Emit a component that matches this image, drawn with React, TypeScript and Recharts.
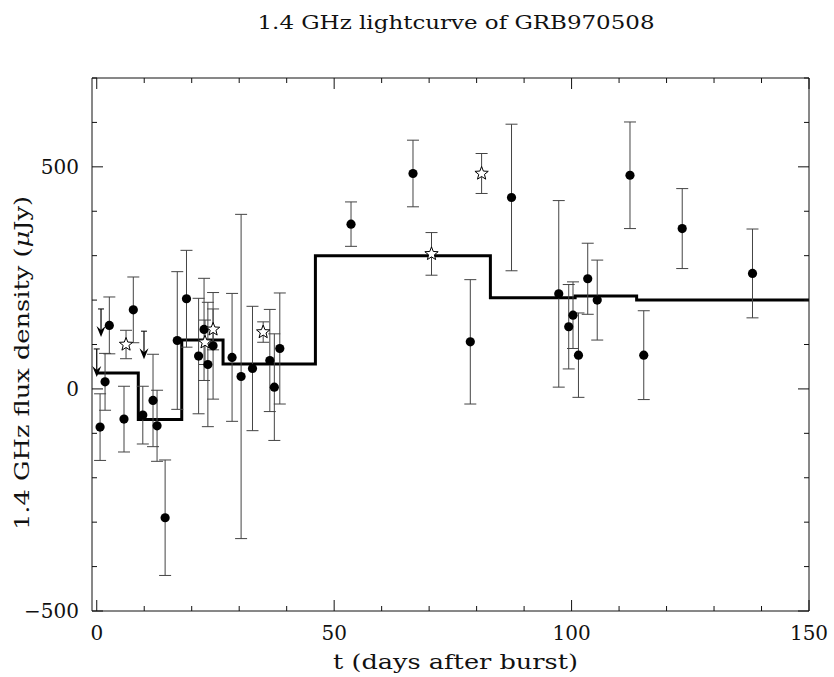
import React from 'react';
import { ComposedChart, Scatter, Line, XAxis, YAxis, ErrorBar, Label } from 'recharts';

// filled circles: t (days), flux (uJy), 1-sigma error
const vlaT = [0.7, 1.75, 2.65, 5.74, 7.7, 9.7, 11.85, 12.7, 14.4, 16.96, 18.9, 21.45, 22.6, 23.4, 24.5, 28.5, 30.4, 32.8, 36.45, 37.4, 38.55, 53.55, 66.6, 78.67, 87.35, 97.3, 99.4, 100.3, 101.45, 103.4, 105.4, 112.3, 115.2, 123.3, 138.1];
const vlaFlux = [-86, 16, 143, -68, 178, -59, -26, -83, -290, 109, 203, 74, 134, 55, 97, 71, 28, 46, 64, 4, 91, 371, 485, 106, 431, 214, 140, 166, 76, 248, 200, 481, 76, 361, 260];
const vlaErr = [75, 64, 64, 74, 74, 65, 104, 80, 130, 155, 109, 130, 115, 140, 120, 144, 365, 140, 115, 120, 125, 50, 75, 140, 165, 210, 95, 75, 95, 80, 90, 120, 100, 90, 100];

// open stars
const starT = [6.17, 22.8, 24.5, 35.05, 70.5, 81.05];
const starFlux = [100, 105, 134, 128, 304, 485];
const starErr = [32, 50, 46, 23, 48, 45];

// upper limits (arrows)
const limT = [0.0, 0.9, 9.95];
const limFlux = [90, 180, 130];

// averaged lightcurve (step)
const stepT = [0, 8.75, 17.9, 26.6, 46.05, 82.9, 100.75, 113.7, 150];
const stepFlux = [36, -69, 110, 56, 300, 205, 209, 200, 200];

const xTicks = [0, 10, 20, 30, 40, 50, 60, 70, 80, 90, 100, 110, 120, 130, 140, 150];
const yTicks = [-500, -400, -300, -200, -100, 0, 100, 200, 300, 400, 500, 600, 700];

const vlaData = vlaT.map((t, i) => ({ t, f: vlaFlux[i], err: vlaErr[i] }));
const starData = starT.map((t, i) => ({ t, f: starFlux[i], err: starErr[i] }));
const limData = limT.map((t, i) => ({ t, f: limFlux[i] }));
const stepData = stepT.map((t, i) => ({ t, f: stepFlux[i] }));

const FONT = '"DejaVu Serif", "Liberation Serif", serif';
const INK = '#111';

const fmt = (v: number) => (v < 0 ? '\u2212' + Math.abs(v) : String(v));

const BottomTick = ({ x, y, payload }: any) => {
    const major = payload.value % 50 === 0;
    return (
        <g>
            <line x1={x} x2={x} y1={y} y2={y - (major ? 11 : 5)} stroke={INK} />
            {major && (
                <text x={x} y={y + 29} textAnchor="middle" fontFamily={FONT} fontSize={20} fill={INK}>
                    {payload.value}
                </text>
            )}
        </g>
    );
};

const TopTick = ({ x, y, payload }: any) => {
    const major = payload.value % 50 === 0;
    return <line x1={x} x2={x} y1={y} y2={y + (major ? 11 : 5)} stroke={INK} />;
};

const LeftTick = ({ x, y, payload }: any) => {
    const major = payload.value % 500 === 0;
    return (
        <g>
            <line x1={x} x2={x + (major ? 11 : 5)} y1={y} y2={y} stroke={INK} />
            {major && (
                <text x={x - 13} y={y + 7} textAnchor="end" fontFamily={FONT} fontSize={20} fill={INK}>
                    {fmt(payload.value)}
                </text>
            )}
        </g>
    );
};

const RightTick = ({ x, y, payload }: any) => {
    const major = payload.value % 500 === 0;
    return <line x1={x} x2={x - (major ? 11 : 5)} y1={y} y2={y} stroke={INK} />;
};

const Dot = (p: any) => <circle cx={p.cx} cy={p.cy} r={4.6} fill="#000" />;

const Star = (p: any) => {
    const pts: string[] = [];
    for (let k = 0; k < 10; k++) {
        const r = k % 2 === 0 ? 7 : 3;
        const a = -Math.PI / 2 + (k * Math.PI) / 5;
        pts.push(`${p.cx + r * Math.cos(a)},${p.cy + r * Math.sin(a)}`);
    }
    return <polygon points={pts.join(' ')} fill="#fff" stroke="#000" strokeWidth={1} />;
};

const Arrow = (p: any) => {
    const { cx, cy } = p;
    const len = 28;
    return (
        <g>
            <line x1={cx - 3} x2={cx + 3} y1={cy} y2={cy} stroke="#000" />
            <line x1={cx} x2={cx} y1={cy} y2={cy + len - 4} stroke="#000" strokeWidth={1.2} />
            <path
                d={`M${cx - 4.5},${cy + len - 11} L${cx},${cy + len} L${cx + 4.5},${cy + len - 11} L${cx},${cy + len - 7} Z`}
                fill="#000"
            />
        </g>
    );
};

const XLabel = ({ viewBox }: any) => (
    <text
        x={viewBox.x + viewBox.width / 2 + 5}
        y={viewBox.y + 58}
        textAnchor="middle"
        fontFamily={FONT}
        fontSize={20}
        fill={INK}
        textLength={245}
        lengthAdjust="spacingAndGlyphs"
    >
        t (days after burst)
    </text>
);

const YLabel = ({ viewBox }: any) => {
    const cx = viewBox.x - 10;
    const cy = 363;
    return (
        <text
            x={cx}
            y={cy}
            transform={`rotate(-90 ${cx} ${cy})`}
            textAnchor="middle"
            dominantBaseline="central"
            fontFamily={FONT}
            fontSize={20}
            fill={INK}
            textLength={334}
            lengthAdjust="spacingAndGlyphs"
        >
            1.4 GHz flux density (<tspan fontStyle="italic">μ</tspan>Jy)
        </text>
    );
};

export default function App() {
    return (
        <div style={{ position: 'absolute', left: 0, top: 0, width: 834, height: 677, background: '#fff' }}>
            <svg width={834} height={50} style={{ position: 'absolute', left: 0, top: 0 }}>
                <text
                    x={456}
                    y={29}
                    textAnchor="middle"
                    fontFamily={FONT}
                    fontSize={19}
                    fill={INK}
                    textLength={397}
                    lengthAdjust="spacingAndGlyphs"
                >
                    1.4 GHz lightcurve of GRB970508
                </text>
            </svg>
            <ComposedChart
                width={834}
                height={677}
                margin={{ top: 68, right: 15, bottom: 36, left: 32 }}
            >
                <XAxis
                    xAxisId={0}
                    dataKey="t"
                    type="number"
                    domain={[-1, 150]}
                    allowDataOverflow
                    ticks={xTicks}
                    interval={0}
                    height={30}
                    tickSize={0}
                    tickMargin={0}
                    tickLine={false}
                    axisLine={{ stroke: INK }}
                    tick={<BottomTick />}
                >
                    <Label content={<XLabel />} />
                </XAxis>
                <XAxis
                    xAxisId="top"
                    orientation="top"
                    dataKey="t"
                    type="number"
                    domain={[-1, 150]}
                    allowDataOverflow
                    ticks={xTicks}
                    interval={0}
                    height={10}
                    tickSize={0}
                    tickMargin={0}
                    tickLine={false}
                    axisLine={{ stroke: INK }}
                    tick={<TopTick />}
                />
                <YAxis
                    yAxisId={0}
                    type="number"
                    domain={[-500, 700]}
                    allowDataOverflow
                    ticks={yTicks}
                    interval={0}
                    width={60}
                    tickSize={0}
                    tickMargin={0}
                    tickLine={false}
                    axisLine={{ stroke: INK }}
                    tick={<LeftTick />}
                >
                    <Label content={<YLabel />} />
                </YAxis>
                <YAxis
                    yAxisId="right"
                    orientation="right"
                    type="number"
                    domain={[-500, 700]}
                    allowDataOverflow
                    ticks={yTicks}
                    interval={0}
                    width={10}
                    tickSize={0}
                    tickMargin={0}
                    tickLine={false}
                    axisLine={{ stroke: INK }}
                    tick={<RightTick />}
                />
                <Line
                    data={stepData}
                    dataKey="f"
                    type="stepAfter"
                    stroke="#000"
                    strokeWidth={3}
                    dot={false}
                    activeDot={false}
                    isAnimationActive={false}
                />
                <Scatter data={vlaData} dataKey="f" shape={<Dot />} isAnimationActive={false}>
                    <ErrorBar dataKey="err" direction="y" width={6} stroke="#444" strokeWidth={1} isAnimationActive={false} />
                </Scatter>
                <Scatter data={starData} dataKey="f" shape={<Star />} isAnimationActive={false}>
                    <ErrorBar dataKey="err" direction="y" width={6} stroke="#444" strokeWidth={1} isAnimationActive={false} />
                </Scatter>
                <Scatter data={limData} dataKey="f" shape={<Arrow />} isAnimationActive={false} />
            </ComposedChart>
        </div>
    );
}
